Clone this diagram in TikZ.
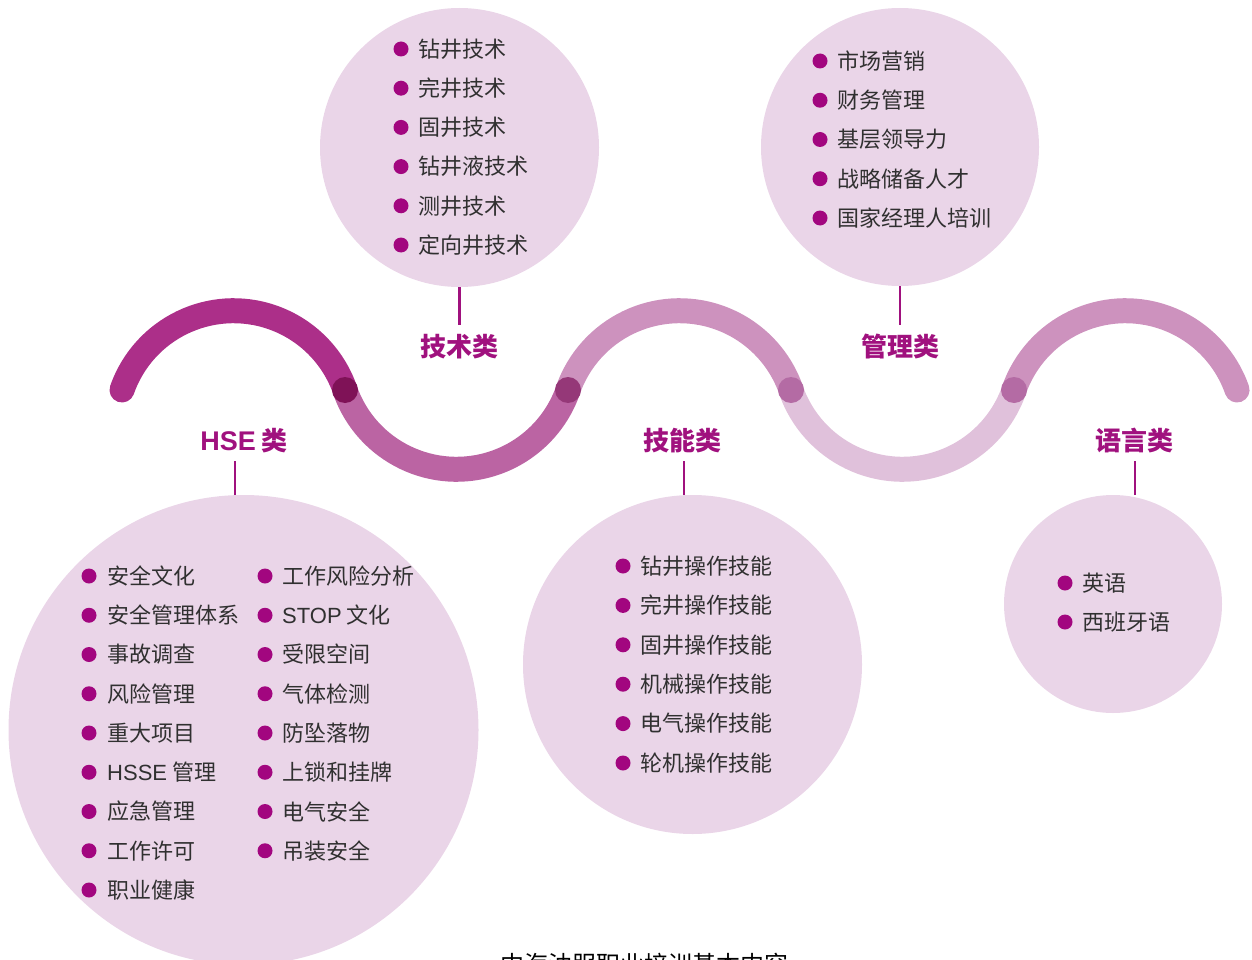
\documentclass[tikz,border=0pt]{standalone}
\usepackage{fontspec}
\setmainfont{Noto Sans CJK SC}
\newfontfamily\latfont{Liberation Sans}
\definecolor{bubblefill}{HTML}{EAD5E8}
\definecolor{catc}{HTML}{A0117E}
\definecolor{bulletc}{HTML}{A2067F}
\definecolor{itemtext}{HTML}{303030}
\definecolor{wA}{HTML}{AC2F89}
\definecolor{wB}{HTML}{BB64A3}
\definecolor{wC}{HTML}{CD92BE}
\definecolor{wD}{HTML}{E0C1DB}
\definecolor{jA}{HTML}{7F1257}
\definecolor{jB}{HTML}{953878}
\definecolor{jC}{HTML}{B46BA4}
\tikzset{
  bubble/.style={circle, fill=bubblefill, draw=none, inner sep=0pt},
  wave/.style={line width=25pt, line cap=round},
  jdot/.style={circle, inner sep=0pt, minimum size=26pt, draw=none},
  bulletdot/.style={circle, fill=bulletc, inner sep=0pt, minimum size=15pt},
  itemnode/.style={anchor=west, inner sep=0pt, text=itemtext, font=\fontsize{22}{26}\selectfont},
  cat/.style={inner sep=0pt, text=catc, font=\bfseries\fontsize{26}{30}\selectfont},
  conn/.style={draw=catc, line width=2.5pt},
}
\newcommand\bitem[5]{%
  \node[bulletdot] (b#1) at (#2,#4) {};
  \node[itemnode] (#1) at (#3,#4) {#5};}
\begin{document}
\begin{tikzpicture}[x=1pt,y=1pt]
\useasboundingbox (0,0) rectangle (1252,-960);
\clip (0,0) rectangle (1252,-960);

% bubbles
\node[bubble, minimum size=279pt] (ctech) at (459.5,-147.5) {};
\node[bubble, minimum size=278pt] (cman) at (900,-147) {};
\node[bubble, minimum size=470pt] (chse) at (243.5,-730) {};
\node[bubble, minimum size=339pt] (cskill) at (692.5,-664.5) {};
\node[bubble, minimum size=218pt] (clang) at (1113,-604) {};

% wave
\coordinate (j0) at (122,-390);
\coordinate (j1) at (345,-390);
\coordinate (j2) at (568,-390);
\coordinate (j3) at (791,-390);
\coordinate (j4) at (1014,-390);
\coordinate (j5) at (1237,-390);
\draw[wave, wA] (j0) arc[start angle=160.8, end angle=19.2, radius=118.1pt];
\draw[wave, wB] (j1) arc[start angle=199.2, end angle=340.8, radius=118.1pt];
\draw[wave, wC] (j2) arc[start angle=160.8, end angle=19.2, radius=118.1pt];
\draw[wave, wD] (j3) arc[start angle=199.2, end angle=340.8, radius=118.1pt];
\draw[wave, wC] (j4) arc[start angle=160.8, end angle=19.2, radius=118.1pt];
\node[jdot, fill=jA] (d1) at (j1) {};
\node[jdot, fill=jB] (d2) at (j2) {};
\node[jdot, fill=jC] (d3) at (j3) {};
\node[jdot, fill=jC] (d4) at (j4) {};

% category labels
\node[cat] (ltech) at (459,-347) {技术类};
\node[cat] (lman) at (900,-347) {管理类};
\node[cat] (lhse) at (244,-441) {{\latfont\bfseries\fontsize{27}{30}\selectfont HSE} 类};
\node[cat] (lskill) at (682,-441) {技能类};
\node[cat] (llang) at (1134,-441) {语言类};

% connectors
\coordinate (ttech) at (459.5,-325);
\coordinate (tman) at (900,-325);
\coordinate (thse) at (235,-461);
\coordinate (tskill) at (684,-461);
\coordinate (tlang) at (1135,-461);
\draw[conn] (ctech.south) -- (ttech);
\draw[conn] (cman.south) -- (tman);
\draw[conn] (thse) -- (thse |- chse.north);
\draw[conn] (tskill) -- (tskill |- cskill.north);
\draw[conn] (tlang) -- (tlang |- clang.north);

% tech items
\foreach \t [count=\i] in {钻井技术,完井技术,固井技术,钻井液技术,测井技术,定向井技术}
  \bitem{te\i}{401}{418}{{-49-39.2*(\i-1)}}{\t};
% management items
\foreach \t [count=\i] in {市场营销,财务管理,基层领导力,战略储备人才,国家经理人培训}
  \bitem{ma\i}{820}{837}{{-61-39.25*(\i-1)}}{\t};
% HSE items col 1
\foreach \t [count=\i] in {安全文化,安全管理体系,事故调查,风险管理,重大项目,{{\latfont HSSE} 管理},应急管理,工作许可,职业健康}
  \bitem{ha\i}{89}{107}{{-576-39.25*(\i-1)}}{\t};
% HSE items col 2
\foreach \t [count=\i] in {工作风险分析,{{\latfont STOP} 文化},受限空间,气体检测,防坠落物,上锁和挂牌,电气安全,吊装安全}
  \bitem{hb\i}{265}{282}{{-576-39.25*(\i-1)}}{\t};
% skill items
\foreach \t [count=\i] in {钻井操作技能,完井操作技能,固井操作技能,机械操作技能,电气操作技能,轮机操作技能}
  \bitem{sk\i}{623}{640}{{-566-39.4*(\i-1)}}{\t};
% language items
\foreach \t [count=\i] in {英语,西班牙语}
  \bitem{la\i}{1065}{1082}{{-583-39*(\i-1)}}{\t};

% title (cut off at bottom, as in the reference)
\node[anchor=base west, inner sep=0pt, text=black, font=\fontsize{24}{28}\selectfont] (title) at (500,-973) {中海油服职业培训基本内容};
\end{tikzpicture}
\end{document}
